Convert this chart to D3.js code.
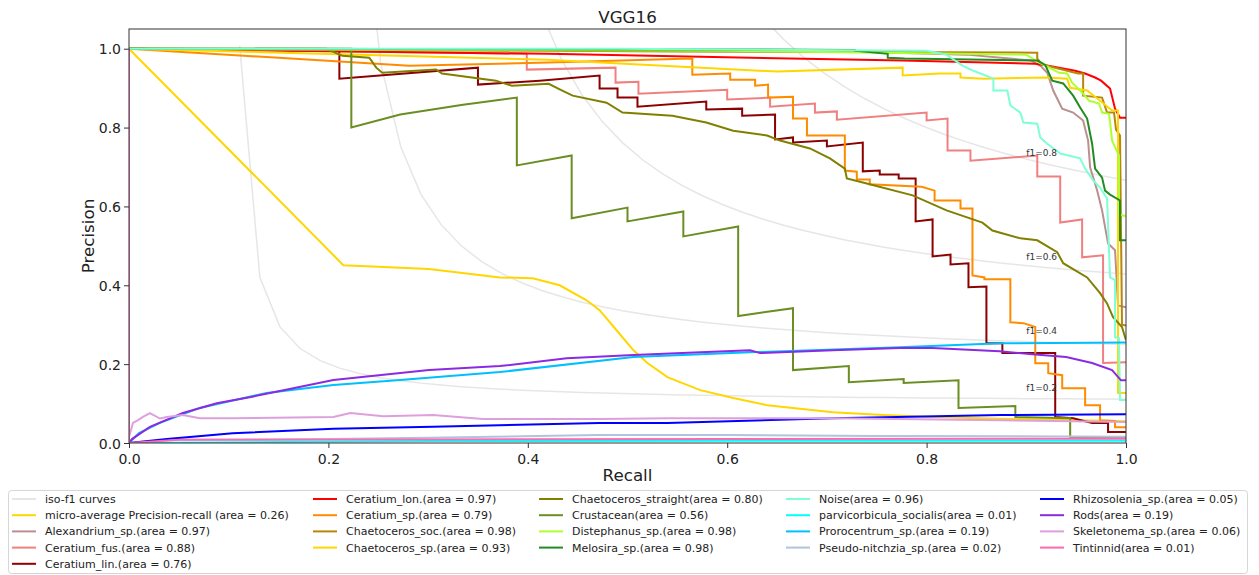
<!DOCTYPE html>
<html>
<head>
<meta charset="utf-8">
<script src="https://cdn.jsdelivr.net/npm/d3@7"></script>
<style>
  body { margin: 0; background: #fff; }
  svg { font-family: "DejaVu Sans", sans-serif; }
</style>
</head>
<body>
<script>
// iso-f1 levels
var fScores = [0.2, 0.4, 0.6, 0.8];

// precision-recall points, [recall, precision]
var microAvg = [[0,1],[0.215,0.451],[0.301,0.441],[0.372,0.420],[0.405,0.418],[0.432,0.400],[0.459,0.362],[0.472,0.337],[0.489,0.286],[0.506,0.235],[0.520,0.203],[0.540,0.167],[0.573,0.134],[0.606,0.114],[0.640,0.096],[0.706,0.078],[0.756,0.071],[0.806,0.066],[0.90,0.060],[1.0,0.055]];
var alexandrium = [[0,1],[0.70,0.995],[0.84,0.985],[0.905,0.970],[0.915,0.955],[0.921,0.939],[0.927,0.894],[0.936,0.848],[0.947,0.838],[0.957,0.818],[0.962,0.767],[0.964,0.699],[0.971,0.641],[0.976,0.590],[0.982,0.506],[0.989,0.489],[0.992,0.349],[1.0,0.344]];
var ceratiumFus = [[0,1],[0.399,0.987],[0.399,0.947],[0.488,0.952],[0.488,0.914],[0.511,0.916],[0.511,0.886],[0.600,0.896],[0.600,0.871],[0.643,0.876],[0.643,0.853],[0.688,0.861],[0.688,0.838],[0.710,0.841],[0.710,0.820],[0.800,0.838],[0.800,0.818],[0.821,0.823],[0.821,0.742],[0.844,0.742],[0.844,0.716],[0.911,0.729],[0.911,0.676],[0.934,0.676],[0.934,0.559],[0.956,0.567],[0.956,0.471],[0.977,0.476],[0.977,0.203],[1.0,0.205]];
var ceratiumLin = [[0,1],[0.211,0.995],[0.211,0.924],[0.350,0.952],[0.350,0.909],[0.412,0.919],[0.472,0.932],[0.472,0.899],[0.490,0.899],[0.490,0.876],[0.510,0.876],[0.510,0.853],[0.579,0.866],[0.579,0.846],[0.615,0.848],[0.615,0.830],[0.648,0.833],[0.648,0.770],[0.666,0.775],[0.666,0.762],[0.700,0.767],[0.700,0.752],[0.736,0.762],[0.736,0.689],[0.753,0.691],[0.753,0.681],[0.772,0.681],[0.772,0.671],[0.789,0.671],[0.789,0.562],[0.806,0.567],[0.806,0.473],[0.824,0.478],[0.824,0.453],[0.842,0.456],[0.842,0.395],[0.860,0.397],[0.860,0.253],[0.876,0.253],[0.876,0.228],[0.929,0.228],[0.929,0.066],[0.947,0.063],[0.966,0.051],[0.982,0.051],[0.982,0.028],[1.0,0.028]];
var ceratiumLon = [[0,1],[0.42,0.987],[0.776,0.970],[0.909,0.962],[0.922,0.957],[0.949,0.944],[0.959,0.937],[0.969,0.927],[0.975,0.919],[0.984,0.899],[0.989,0.848],[0.994,0.825],[1.0,0.825]];
var ceratiumSp = [[0,1],[0.281,0.957],[0.421,0.965],[0.565,0.975],[0.565,0.934],[0.603,0.937],[0.603,0.921],[0.628,0.921],[0.628,0.906],[0.641,0.909],[0.641,0.876],[0.666,0.878],[0.666,0.823],[0.680,0.823],[0.680,0.780],[0.718,0.780],[0.718,0.691],[0.730,0.688],[0.730,0.668],[0.743,0.668],[0.743,0.656],[0.795,0.650],[0.808,0.640],[0.808,0.615],[0.834,0.615],[0.834,0.595],[0.846,0.595],[0.846,0.425],[0.858,0.420],[0.858,0.415],[0.884,0.415],[0.884,0.306],[0.897,0.304],[0.909,0.294],[0.909,0.202],[0.922,0.202],[0.922,0.177],[0.936,0.172],[0.936,0.139],[0.959,0.139],[0.959,0.096],[0.974,0.096],[0.974,0.058],[0.989,0.056],[0.989,0.040],[1.0,0.040]];
var chaetoSoc = [[0,1],[0.55,0.993],[0.911,0.990],[0.911,0.975],[0.916,0.960],[0.952,0.937],[0.957,0.937],[0.957,0.881],[0.976,0.876],[0.981,0.838],[0.988,0.838],[0.990,0.795],[0.994,0.780],[0.996,0.300],[1.0,0.298]];
var chaetoSp = [[0,1],[0.42,0.972],[0.650,0.942],[0.776,0.952],[0.776,0.932],[0.813,0.937],[0.834,0.937],[0.834,0.927],[0.857,0.924],[0.922,0.927],[0.941,0.924],[0.944,0.901],[0.961,0.894],[0.974,0.868],[0.986,0.843],[0.992,0.843],[0.992,0.127],[1.0,0.127]];
var chaetoStraight = [[0,1],[0.198,1.0],[0.214,0.982],[0.241,0.977],[0.248,0.952],[0.254,0.939],[0.308,0.947],[0.314,0.937],[0.368,0.919],[0.384,0.906],[0.421,0.911],[0.432,0.897],[0.445,0.881],[0.479,0.863],[0.495,0.838],[0.545,0.830],[0.579,0.813],[0.606,0.792],[0.640,0.780],[0.653,0.767],[0.683,0.747],[0.703,0.722],[0.718,0.696],[0.720,0.671],[0.740,0.658],[0.786,0.628],[0.820,0.590],[0.856,0.559],[0.866,0.539],[0.894,0.519],[0.911,0.514],[0.931,0.484],[0.937,0.456],[0.961,0.420],[0.974,0.380],[0.981,0.354],[0.987,0.319],[0.996,0.294],[1.0,0.261]];
var crustacean = [[0,1],[0.223,1.0],[0.223,0.800],[0.272,0.833],[0.335,0.858],[0.389,0.876],[0.389,0.704],[0.444,0.729],[0.444,0.570],[0.500,0.597],[0.500,0.562],[0.556,0.587],[0.556,0.524],[0.611,0.549],[0.611,0.322],[0.666,0.342],[0.666,0.185],[0.722,0.195],[0.722,0.154],[0.777,0.162],[0.777,0.152],[0.832,0.159],[0.832,0.089],[0.889,0.094],[0.889,0.066],[0.944,0.063],[0.944,0.015],[1.0,0.015]];
var distephanus = [[0,1],[0.6,0.995],[0.90,0.985],[0.913,0.965],[0.923,0.952],[0.933,0.939],[0.941,0.937],[0.946,0.914],[0.956,0.889],[0.963,0.868],[0.973,0.861],[0.976,0.838],[0.983,0.835],[0.985,0.792],[0.986,0.767],[0.993,0.729],[0.993,0.58],[1.0,0.575]];
var melosira = [[0,1],[0.62,0.998],[0.728,0.997],[0.728,0.995],[0.761,0.987],[0.761,0.977],[0.778,0.975],[0.911,0.970],[0.919,0.959],[0.926,0.919],[0.937,0.912],[0.947,0.881],[0.954,0.851],[0.961,0.823],[0.966,0.759],[0.969,0.696],[0.976,0.673],[0.979,0.640],[0.984,0.630],[0.994,0.615],[0.994,0.514],[1.0,0.514]];
var noise = [[0,1],[0.49,1.0],[0.80,0.995],[0.82,0.985],[0.836,0.957],[0.847,0.944],[0.867,0.924],[0.867,0.894],[0.881,0.894],[0.884,0.856],[0.894,0.838],[0.897,0.813],[0.911,0.810],[0.914,0.775],[0.921,0.759],[0.934,0.734],[0.954,0.722],[0.959,0.696],[0.967,0.666],[0.974,0.648],[0.981,0.620],[0.984,0.420],[0.989,0.413],[0.989,0.268],[0.993,0.266],[0.994,0.109],[1.0,0.109]];
var parvicorbicula = [[0,1],[0,0],[0.3,0.005],[0.7,0.006],[1.0,0.006]];
var prorocentrum = [[0,1],[0,0],[0.010,0.025],[0.031,0.051],[0.071,0.089],[0.138,0.127],[0.205,0.147],[0.272,0.160],[0.372,0.180],[0.506,0.218],[0.623,0.230],[0.773,0.243],[0.874,0.253],[1.0,0.255]];
var pseudoNitzschia = [[0,1],[0,0],[0.044,0.008],[0.2,0.010],[0.3,0.013],[0.47,0.020],[0.6,0.020],[0.75,0.018],[1.0,0.016]];
var rhizosolenia = [[0,1],[0,0],[0.038,0.010],[0.104,0.025],[0.205,0.036],[0.305,0.041],[0.472,0.051],[0.540,0.051],[0.706,0.063],[0.874,0.071],[1.0,0.073]];
var rods = [[0,1],[0,0],[0.003,0.010],[0.021,0.041],[0.054,0.076],[0.088,0.101],[0.121,0.116],[0.155,0.134],[0.205,0.160],[0.301,0.185],[0.372,0.195],[0.439,0.215],[0.506,0.223],[0.573,0.230],[0.623,0.235],[0.633,0.228],[0.706,0.235],[0.773,0.241],[0.806,0.241],[0.873,0.233],[0.906,0.225],[0.940,0.218],[0.966,0.203],[0.986,0.185],[0.995,0.159],[1.0,0.159]];
var skeletonema = [[0,1],[0,0.015],[0.004,0.051],[0.009,0.058],[0.014,0.066],[0.021,0.076],[0.031,0.062],[0.038,0.066],[0.054,0.071],[0.071,0.063],[0.104,0.063],[0.205,0.066],[0.222,0.076],[0.255,0.068],[0.305,0.071],[0.355,0.061],[0.472,0.061],[0.540,0.063],[0.706,0.063],[0.874,0.058],[1.0,0.053]];
var tintinnid = [[0,1],[0,0],[0.05,0.008],[0.3,0.009],[0.6,0.010],[1.0,0.011]];

var classNames = ["Alexandrium_sp.", "Ceratium_fus.", "Ceratium_lin.", "Ceratium_lon.", "Ceratium_sp.", "Chaetoceros_soc.", "Chaetoceros_sp.", "Chaetoceros_straight", "Crustacean", "Distephanus_sp.", "Melosira_sp.", "Noise", "parvicorbicula_socialis", "Prorocentrum_sp.", "Pseudo-nitchzia_sp.", "Rhizosolenia_sp.", "Rods", "Skeletonema_sp.", "Tintinnid"];
var classAreas = [0.97, 0.88, 0.76, 0.97, 0.79, 0.98, 0.93, 0.80, 0.56, 0.98, 0.98, 0.96, 0.01, 0.19, 0.02, 0.05, 0.19, 0.06, 0.01];
var classCurves = [alexandrium, ceratiumFus, ceratiumLin, ceratiumLon, ceratiumSp, chaetoSoc, chaetoSp, chaetoStraight, crustacean, distephanus, melosira, noise, parvicorbicula, prorocentrum, pseudoNitzschia, rhizosolenia, rods, skeletonema, tintinnid];
var classColors = ["rosybrown", "lightcoral", "darkred", "red", "darkorange", "darkgoldenrod", "gold", "olive", "olivedrab", "greenyellow", "forestgreen", "aquamarine", "aqua", "deepskyblue", "lightsteelblue", "blue", "blueviolet", "plum", "hotpink"];
var microArea = 0.26;

var width = 1259, height = 575;
var margin = {top: 29, right: 133, bottom: 132, left: 129};
var iwidth = width - margin.left - margin.right,
    iheight = height - margin.top - margin.bottom;

var svg = d3.select("body").append("svg")
    .attr("width", width)
    .attr("height", height);

var x = d3.scaleLinear().domain([0, 1]).range([0, iwidth]);
var y = d3.scaleLinear().domain([0, 1.05]).range([iheight, 0]);

var g = svg.append("g")
    .attr("transform", "translate(" + margin.left + "," + margin.top + ")");

g.append("clipPath").attr("id", "plotclip")
  .append("rect").attr("width", iwidth).attr("height", iheight);

var plot = g.append("g").attr("clip-path", "url(#plotclip)");

var line = d3.line()
    .x(function(d) { return x(d[0]); })
    .y(function(d) { return y(d[1]); });

// iso-f1 curves: precision = f*r / (2r - f), sampled like np.linspace(0.01, 1)
var recallGrid = d3.range(50).map(function(i) { return 0.01 + i * 0.99 / 49; });
fScores.forEach(function(f) {
    var pts = recallGrid.map(function(r) { return [r, f * r / (2 * r - f)]; })
        .filter(function(p) { return p[1] >= 0; });
    plot.append("path")
        .datum(pts)
        .attr("d", line)
        .attr("fill", "none")
        .attr("stroke", "gray")
        .attr("stroke-opacity", 0.2)
        .attr("stroke-width", 1.5);
    var r45 = recallGrid[45];
    g.append("text")
        .attr("x", x(0.9))
        .attr("y", y(f * r45 / (2 * r45 - f) + 0.02))
        .attr("font-size", "9px")
        .attr("fill", "#333")
        .text("f1=" + f.toFixed(1));
});

// micro-average
plot.append("path")
    .datum(microAvg)
    .attr("d", line)
    .attr("fill", "none")
    .attr("stroke", "gold")
    .attr("stroke-width", 2);

classCurves.forEach(function(c, i) {
    plot.append("path")
        .datum(c)
        .attr("d", line)
        .attr("fill", "none")
        .attr("stroke", classColors[i])
        .attr("stroke-width", 2);
});

// axes
var xAxis = g.append("g")
    .attr("transform", "translate(0," + iheight + ")")
    .call(d3.axisBottom(x).tickValues([0, 0.2, 0.4, 0.6, 0.8, 1.0]).tickFormat(d3.format(".1f")).tickSizeOuter(0).tickSize(5));
var yAxis = g.append("g")
    .call(d3.axisLeft(y).tickValues([0, 0.2, 0.4, 0.6, 0.8, 1.0]).tickFormat(d3.format(".1f")).tickSizeOuter(0).tickSize(5));
[xAxis, yAxis].forEach(function(a) {
    a.select(".domain").remove();
    a.selectAll("text").attr("font-size", "14px").attr("fill", "#222")
        .attr("font-family", "DejaVu Sans");
    a.selectAll("line").attr("stroke", "#333");
});
xAxis.selectAll("text").attr("dy", "0.95em");
yAxis.selectAll("text").attr("dy", "0.36em");

g.append("rect")
    .attr("width", iwidth)
    .attr("height", iheight)
    .attr("fill", "none")
    .attr("stroke", "#333")
    .attr("stroke-width", 1);

svg.append("text")
    .attr("x", margin.left + iwidth / 2)
    .attr("y", 23)
    .attr("text-anchor", "middle")
    .attr("font-size", "16.7px")
    .attr("fill", "#222")
    .text("VGG16");

svg.append("text")
    .attr("x", margin.left + iwidth / 2)
    .attr("y", 481)
    .attr("text-anchor", "middle")
    .attr("font-size", "16.7px")
    .attr("fill", "#222")
    .text("Recall");

svg.append("text")
    .attr("transform", "translate(94," + (margin.top + iheight / 2) + ") rotate(-90)")
    .attr("text-anchor", "middle")
    .attr("font-size", "16.7px")
    .attr("fill", "#222")
    .text("Precision");

// legend, 5 columns, filled column by column
var legendItems = [{label: "iso-f1 curves", color: "gray", opacity: 0.2},
    {label: "micro-average Precision-recall (area = " + microArea.toFixed(2) + ")", color: "gold", opacity: 1}];
classNames.forEach(function(n, i) {
    legendItems.push({label: n + "(area = " + classAreas[i].toFixed(2) + ")", color: classColors[i], opacity: 1});
});

var legend = svg.append("g");
legend.append("rect")
    .attr("x", 8.5).attr("y", 490.5)
    .attr("width", 1239).attr("height", 83)
    .attr("rx", 3)
    .attr("fill", "#fff")
    .attr("stroke", "#d6d6d6");

var colX = [12, 313, 539, 786, 1040];
var rowsPerCol = [5, 4, 4, 4, 4];
var rowY = 499, rowStep = 16.2;
var idx = 0;
colX.forEach(function(cx, ci) {
    for (var r = 0; r < rowsPerCol[ci]; r++) {
        var it = legendItems[idx++];
        var yy = rowY + r * rowStep;
        legend.append("line")
            .attr("x1", cx).attr("x2", cx + 24)
            .attr("y1", yy).attr("y2", yy)
            .attr("stroke", it.color)
            .attr("stroke-opacity", it.opacity)
            .attr("stroke-width", 2);
        legend.append("text")
            .attr("x", cx + 33)
            .attr("y", yy)
            .attr("dy", "0.36em")
            .attr("font-size", "11px")
            .attr("fill", "#222")
            .text(it.label);
    }
});
</script>
</body>
</html>
